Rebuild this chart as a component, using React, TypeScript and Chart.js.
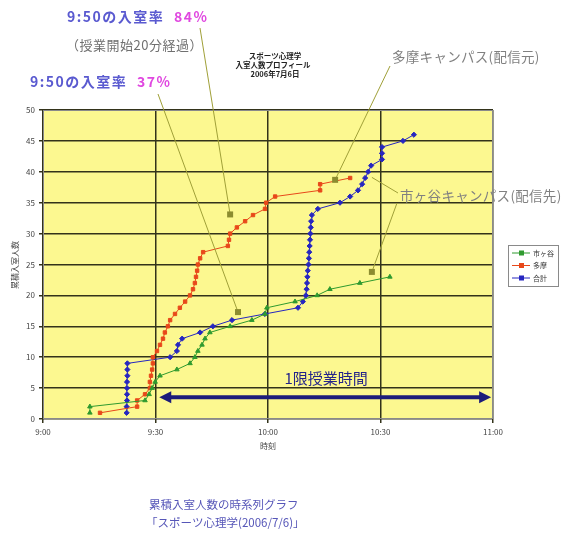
import { useEffect, useRef } from "react";
import { Chart, registerables } from "chart.js";
Chart.register(...registerables);

// ---- data (x = minutes after 9:00, y = cumulative number of people in room) ----
const seriesNames = ["市ヶ谷", "多摩", "合計"];

const greenMinutes = [12.5, 12.5, 27.2, 28.3, 29.1, 29.9, 31.2, 35.7, 39.2, 40.5, 41.3, 42.4, 43.2, 44.5, 49.9, 55.7, 59.2, 59.7, 67.2, 73.1, 76.5, 84.5, 92.5];
const greenCounts = [1, 2, 3, 4, 5, 6, 7, 8, 9, 10, 11, 12, 13, 14, 15, 16, 17, 18, 19, 20, 21, 22, 23];

const redMinutes = [15.2, 25.1, 25.1, 27.2, 28.5, 28.5, 28.8, 29.1, 29.3, 29.3, 30.4, 31.2, 32.0, 32.5, 33.3, 33.9, 35.2, 36.5, 37.9, 39.2, 40.0, 40.5, 40.8, 41.1, 41.3, 41.9, 42.7, 49.3, 49.6, 49.9, 51.7, 53.9, 56.0, 59.2, 59.5, 61.9, 73.9, 73.9, 81.9];
const redCounts = [1, 2, 3, 4, 5, 6, 7, 8, 9, 10, 11, 12, 13, 14, 15, 16, 17, 18, 19, 20, 21, 22, 23, 24, 25, 26, 27, 28, 29, 30, 31, 32, 33, 34, 35, 36, 37, 38, 39];

const blueMinutes = [22.3, 22.3, 22.4, 22.4, 22.4, 22.4, 22.5, 22.5, 22.5, 33.9, 35.7, 36.0, 37.1, 41.9, 45.3, 50.4, 59.2, 68.0, 69.3, 70.1, 70.3, 70.4, 70.5, 70.6, 70.8, 70.9, 71.0, 71.1, 71.2, 71.3, 71.4, 71.5, 71.7, 73.3, 79.2, 81.9, 84.0, 85.1, 85.9, 86.7, 87.5, 90.4, 90.4, 90.4, 96.0, 98.9];
const blueCounts = [1, 2, 3, 4, 5, 6, 7, 8, 9, 10, 11, 12, 13, 14, 15, 16, 17, 18, 19, 20, 21, 22, 23, 24, 25, 26, 27, 28, 29, 30, 31, 32, 33, 34, 35, 36, 37, 38, 39, 40, 41, 42, 43, 44, 45, 46];

const xTickMinutes = [0, 30, 60, 90, 120];
const xTickLabels = ["9:00", "9:30", "10:00", "10:30", "11:00"];
const yMax = 50;
const yStep = 5;

// annotation targets (data coordinates: minutes, count)
const rate84Target = { x: 49.9, y: 33.1 };
const rate37Target = { x: 52.0, y: 17.3 };
const tamaTarget = { x: 77.9, y: 38.7 };
const ichigayaTargetA = { x: 87.7, y: 39.1 };
const ichigayaTargetB = { x: 87.7, y: 23.8 };
const classStart = 31;
const classEnd = 119.5;
const classArrowLevel = 3.5;
const classLabelPos = { x: 75.5, y: 6.6 };

const FONT = '"Noto Sans CJK JP", "Noto Sans", sans-serif';
const GREEN = "#2f9a2f";
const RED = "#e8481a";
const BLUE = "#2626c0";
const OLIVE = "#a0a038";

const makeData = (xs: number[], ys: number[]) => xs.map((x, i) => ({ x, y: ys[i] }));

export default function App() {
  const ref = useRef<HTMLCanvasElement | null>(null);
  useEffect(() => {
    if (!ref.current) return;
    const decor = {
      id: "decor",
      beforeDraw(chart: any) {
        const { ctx, chartArea: a } = chart;
        ctx.save();
        ctx.fillStyle = "#ffffff";
        ctx.fillRect(0, 0, chart.width, chart.height);
        ctx.fillStyle = "#fcf890";
        ctx.fillRect(a.left, a.top, a.right - a.left, a.bottom - a.top);
        ctx.restore();
      },
      afterDatasetsDraw(chart: any) {
        const { ctx, chartArea: a, scales } = chart;
        const px = (v: number) => scales.x.getPixelForValue(v);
        const py = (v: number) => scales.y.getPixelForValue(v);
        ctx.save();
        // plot border
        ctx.strokeStyle = "#8a8a8a";
        ctx.lineWidth = 1;
        ctx.strokeRect(a.left + 0.5, a.top + 0.5, a.right - a.left - 1, a.bottom - a.top - 1);

        // class-time arrow
        const ay = py(classArrowLevel);
        const x1 = px(classStart);
        const x2 = px(classEnd);
        ctx.strokeStyle = "#1c1c7a";
        ctx.fillStyle = "#1c1c7a";
        ctx.lineWidth = 4;
        ctx.beginPath();
        ctx.moveTo(x1 + 8, ay);
        ctx.lineTo(x2 - 8, ay);
        ctx.stroke();
        ctx.beginPath();
        ctx.moveTo(x1, ay);
        ctx.lineTo(x1 + 12, ay - 6);
        ctx.lineTo(x1 + 12, ay + 6);
        ctx.closePath();
        ctx.fill();
        ctx.beginPath();
        ctx.moveTo(x2, ay);
        ctx.lineTo(x2 - 12, ay - 6);
        ctx.lineTo(x2 - 12, ay + 6);
        ctx.closePath();
        ctx.fill();
        ctx.font = `15px ${FONT}`;
        ctx.textAlign = "center";
        ctx.textBaseline = "middle";
        ctx.fillStyle = "#24248a";
        ctx.fillText("1限授業時間", px(classLabelPos.x), py(classLabelPos.y));

        // pointer lines
        const line = (sx: number, sy: number, t: { x: number; y: number }, marker: boolean) => {
          const ex = px(t.x);
          const ey = py(t.y);
          ctx.strokeStyle = OLIVE;
          ctx.lineWidth = 1;
          ctx.beginPath();
          ctx.moveTo(sx, sy);
          ctx.lineTo(ex, ey);
          ctx.stroke();
          if (marker) {
            ctx.fillStyle = "#8c8c30";
            ctx.fillRect(ex - 3, ey - 3, 6, 6);
          }
        };
        line(200, 28, rate84Target, true);
        line(158, 94, rate37Target, true);
        line(390, 66, tamaTarget, true);
        line(398, 193, ichigayaTargetA, false);
        line(397, 203, ichigayaTargetB, true);

        // texts
        ctx.textAlign = "left";
        ctx.textBaseline = "middle";
        const mixed = (x: number, y: number, a1: string, b1: string, gap: number) => {
          ctx.font = `bold 14px ${FONT}`;
          (ctx as any).letterSpacing = "1.5px";
          ctx.fillStyle = "#5a5ad0";
          ctx.fillText(a1, x, y);
          ctx.fillStyle = "#e048e0";
          ctx.fillText(b1, x + gap, y);
          (ctx as any).letterSpacing = "0px";
        };
        mixed(67, 17, "9:50の入室率", "84%", 107);
        mixed(30, 82, "9:50の入室率", "37%", 107);
        ctx.font = `13px ${FONT}`;
        (ctx as any).letterSpacing = "0.5px";
        ctx.fillStyle = "#707070";
        ctx.fillText("（授業開始20分経過）", 66, 45);
        ctx.font = `13.5px ${FONT}`;
        (ctx as any).letterSpacing = "0.3px";
        ctx.fillStyle = "#808080";
        ctx.fillText("多摩キャンパス(配信元)", 392, 57);
        ctx.fillText("市ヶ谷キャンパス(配信先)", 400, 196);
        (ctx as any).letterSpacing = "0px";

        ctx.textAlign = "center";
        ctx.font = `bold 7.5px ${FONT}`;
        ctx.fillStyle = "#222";
        ctx.fillText("スポーツ心理学", 275, 56);
        ctx.fillText("入室人数プロフィール", 273, 65);
        ctx.fillText("2006年7月6日", 275, 74);

        ctx.font = `8px ${FONT}`;
        ctx.fillStyle = "#444";
        ctx.fillText("時刻", px(60), 446);
        ctx.save();
        ctx.translate(15, 265);
        ctx.rotate(-Math.PI / 2);
        ctx.fillText("累積入室人数", 0, 0);
        ctx.restore();

        ctx.textAlign = "left";
        ctx.font = `11.5px ${FONT}`;
        ctx.fillStyle = "#5656b8";
        ctx.fillText("累積入室人数の時系列グラフ", 149, 505);
        ctx.fillText("「スポーツ心理学(2006/7/6)」", 146, 523);

        // legend
        const lx = 508, ly = 245, lw = 50, lh = 41;
        ctx.fillStyle = "#ffffff";
        ctx.fillRect(lx, ly, lw, lh);
        ctx.strokeStyle = "#8a8a8a";
        ctx.strokeRect(lx + 0.5, ly + 0.5, lw, lh);
        chart.data.datasets.forEach((ds: any, i: number) => {
          const yy = ly + 8 + i * 12.5;
          ctx.strokeStyle = ds.borderColor;
          ctx.lineWidth = 1;
          ctx.beginPath();
          ctx.moveTo(lx + 4, yy);
          ctx.lineTo(lx + 22, yy);
          ctx.stroke();
          ctx.fillStyle = ds.borderColor;
          ctx.fillRect(lx + 11, yy - 2.5, 5, 5);
          ctx.font = `7px ${FONT}`;
          ctx.fillStyle = "#333";
          ctx.fillText(ds.label, lx + 25, yy);
        });
        ctx.restore();
      },
    };

    const chart = new Chart(ref.current, {
      type: "line",
      data: {
        datasets: [
          { label: seriesNames[0], data: makeData(greenMinutes, greenCounts), borderColor: GREEN, backgroundColor: GREEN, pointStyle: "triangle", pointRadius: 2.6, borderWidth: 1, pointBorderWidth: 1 },
          { label: seriesNames[1], data: makeData(redMinutes, redCounts), borderColor: RED, backgroundColor: RED, pointStyle: "rect", pointRadius: 2.4, borderWidth: 1, pointBorderWidth: 1 },
          { label: seriesNames[2], data: makeData(blueMinutes, blueCounts), borderColor: BLUE, backgroundColor: BLUE, pointStyle: "rectRot", pointRadius: 2.6, borderWidth: 1, pointBorderWidth: 1 },
        ],
      },
      options: {
        responsive: false,
        animation: false,
        layout: { padding: { top: 110, right: 69, bottom: 90, left: 0 } },
        plugins: { legend: { display: false }, tooltip: { enabled: false } },
        scales: {
          x: {
            type: "linear",
            min: 0,
            max: 120,
            afterBuildTicks: (s: any) => { s.ticks = xTickMinutes.map((v) => ({ value: v })); },
            afterFit: (s: any) => { s.height = 35; },
            ticks: {
              callback: (v: any) => xTickLabels[xTickMinutes.indexOf(Number(v))] ?? "",
              font: { size: 8, family: FONT },
              color: "#444",
              maxRotation: 0,
              padding: 4,
            },
            grid: { color: "#33331a", lineWidth: 1.5, tickLength: 4, drawOnChartArea: true },
            border: { display: false },
          },
          y: {
            min: 0,
            max: yMax,
            ticks: { stepSize: yStep, font: { size: 8, family: FONT }, color: "#444", padding: 4 },
            afterFit: (s: any) => { s.width = 43; },
            grid: { color: "#33331a", lineWidth: 1.5, tickLength: 4 },
            border: { display: false },
          },
        },
      },
      plugins: [decor],
    });
    return () => chart.destroy();
  }, []);

  return (
    <div style={{ position: "absolute", left: 0, top: 0, width: 562, height: 544 }}>
      <canvas ref={ref} width={562} height={544} style={{ display: "block" }} />
    </div>
  );
}
